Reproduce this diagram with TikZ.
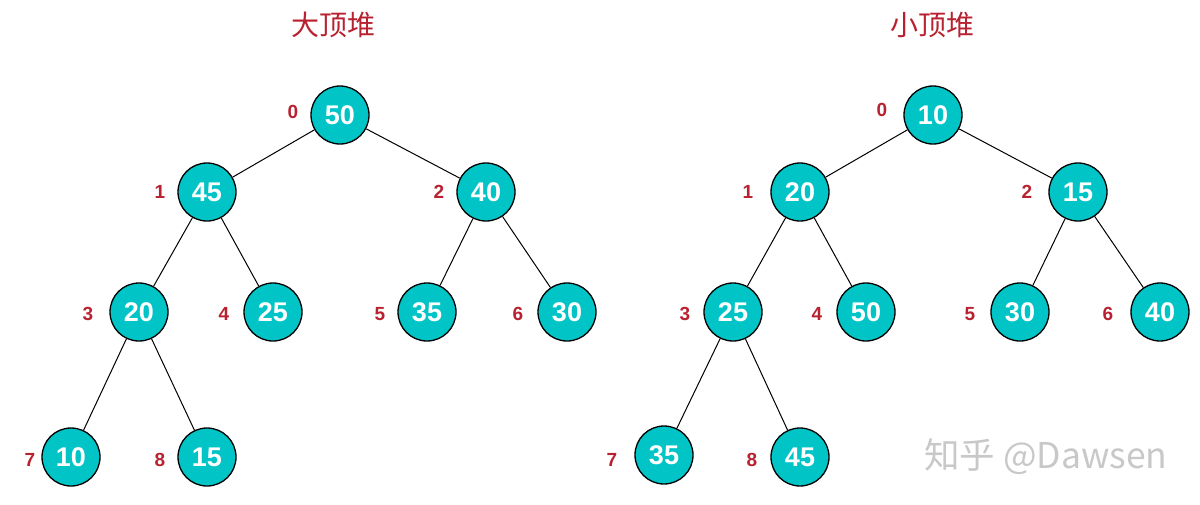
\documentclass[tikz,border=0pt]{standalone}
\usepackage{fontspec}
\setmainfont{Liberation Sans}
\newfontfamily\cjk{Noto Sans CJK SC}
\definecolor{heapfill}{HTML}{00C4C6}
\definecolor{idxred}{HTML}{B8212F}
\definecolor{wmgray}{HTML}{C8C8C8}
\begin{document}
\begin{tikzpicture}[x=1pt,y=-1pt,
  hnode/.style={circle,draw=black,line width=1.3pt,fill=heapfill,minimum size=58pt,inner sep=0pt,text=white,font=\fontsize{27}{27}\selectfont\bfseries},
  idx/.style={text=idxred,font=\fontsize{19}{19}\selectfont\bfseries,inner sep=0pt},
  ttl/.style={text=idxred,font=\cjk\fontsize{28}{28}\selectfont},
  edge/.style={line width=1pt,black}]
\useasboundingbox (0,0) rectangle (1200,504);
% titles
\node[ttl] (t1) at (333,25) {大顶堆};
\node[ttl] (t2) at (932,25) {小顶堆};
% left heap
\node[hnode] (a0) at (340,115) {50};
\node[hnode] (a1) at (207,192) {45};
\node[hnode] (a2) at (486,192) {40};
\node[hnode] (a3) at (139,312) {20};
\node[hnode] (a4) at (273,312) {25};
\node[hnode] (a5) at (427,312) {35};
\node[hnode] (a6) at (567,312) {30};
\node[hnode] (a7) at (71,457) {10};
\node[hnode] (a8) at (207,457) {15};
\node[idx] (ia0) at (293,112) {0};
\node[idx] (ia1) at (160,192) {1};
\node[idx] (ia2) at (439,192) {2};
\node[idx] (ia3) at (88,314) {3};
\node[idx] (ia4) at (224,314) {4};
\node[idx] (ia5) at (380,314) {5};
\node[idx] (ia6) at (518,314) {6};
\node[idx] (ia7) at (30,460) {7};
\node[idx] (ia8) at (160,460) {8};
\draw[edge] (a0) -- (a1); \draw[edge] (a0) -- (a2);
\draw[edge] (a1) -- (a3); \draw[edge] (a1) -- (a4);
\draw[edge] (a2) -- (a5); \draw[edge] (a2) -- (a6);
\draw[edge] (a3) -- (a7); \draw[edge] (a3) -- (a8);
% right heap
\node[hnode] (b0) at (933,115) {10};
\node[hnode] (b1) at (800,192) {20};
\node[hnode] (b2) at (1078,192) {15};
\node[hnode] (b3) at (733,312) {25};
\node[hnode] (b4) at (866,312) {50};
\node[hnode] (b5) at (1020,312) {30};
\node[hnode] (b6) at (1160,312) {40};
\node[hnode] (b7) at (664,455) {35};
\node[hnode] (b8) at (800,457) {45};
\node[idx] (ib0) at (882,110) {0};
\node[idx] (ib1) at (748,192) {1};
\node[idx] (ib2) at (1027,192) {2};
\node[idx] (ib3) at (685,314) {3};
\node[idx] (ib4) at (817,314) {4};
\node[idx] (ib5) at (970,314) {5};
\node[idx] (ib6) at (1108,314) {6};
\node[idx] (ib7) at (612,460) {7};
\node[idx] (ib8) at (752,460) {8};
\draw[edge] (b0) -- (b1); \draw[edge] (b0) -- (b2);
\draw[edge] (b1) -- (b3); \draw[edge] (b1) -- (b4);
\draw[edge] (b2) -- (b5); \draw[edge] (b2) -- (b6);
\draw[edge] (b3) -- (b7); \draw[edge] (b3) -- (b8);
% watermark
\node[text=wmgray,font=\cjk\fontsize{35.5}{36}\selectfont,anchor=west,inner sep=0pt] (wm) at (924,457) {知乎 @Dawsen};
\end{tikzpicture}
\end{document}
